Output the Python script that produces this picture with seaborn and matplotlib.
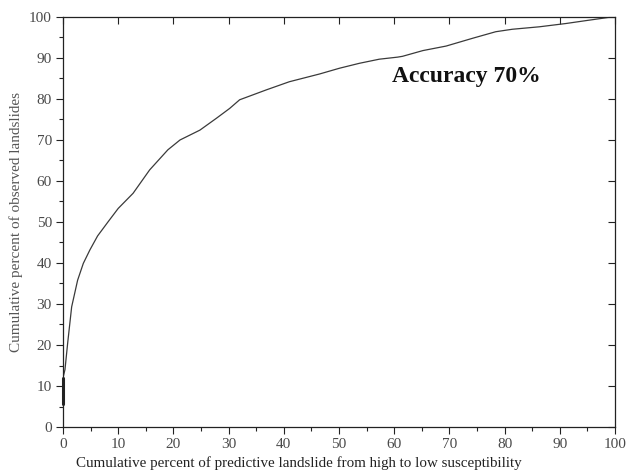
import numpy as np
import pandas as pd
import matplotlib
matplotlib.use("Agg")
import matplotlib.pyplot as plt
from matplotlib.ticker import MultipleLocator
import seaborn as sns

# cumulative percent of predictive landslide area (high -> low susceptibility)
pct_area = [0.0, 0.0, 0.0, 0.36, 0.85, 1.57, 2.65, 3.68, 4.88, 6.27, 8.2, 10.0,
            12.7, 15.7, 19.0, 21.2, 24.8, 27.8, 30.2, 32.0, 33.8, 36.8, 41.0,
            46.5, 50.1, 53.7, 57.3, 60.6, 61.5, 65.2, 69.4, 74.2, 78.4, 81.4,
            86.3, 91.1, 94.7, 98.9, 100.0]
# cumulative percent of observed landslides
pct_observed = [5.5, 9.0, 12.0, 14.0, 20.5, 29.3, 35.8, 39.9, 43.2, 46.6, 50.1, 53.3,
                57.0, 62.7, 67.6, 70.0, 72.4, 75.3, 77.7, 79.8, 80.7, 82.2, 84.2,
                86.1, 87.5, 88.7, 89.7, 90.2, 90.4, 91.8, 92.9, 94.8, 96.4, 97.0,
                97.6, 98.4, 99.1, 99.9, 100.0]

ANNOT = "Accuracy 70%"
XLABEL = "Cumulative percent of predictive landslide from high to low susceptibility"
YLABEL = "Cumulative percent of observed landslides"

df = pd.DataFrame({"area": pct_area, "observed": pct_observed})

sns.set_theme(style="white")
plt.rcParams["font.family"] = ["Liberation Serif", "DejaVu Serif"]

fig = plt.figure(figsize=(6.28, 4.71), dpi=100)
ax = fig.add_axes([0.1003, 0.0934, 0.8790, 0.8706])

sns.lineplot(data=df, x="area", y="observed", ax=ax, color="#3a3a3a",
             linewidth=0.9, sort=False, estimator=None)
# short darker stub where the curve runs along the y axis
ax.plot(pct_area[:3], pct_observed[:3], color="#222222", linewidth=2.2,
        clip_on=False, zorder=5)

ax.set_xlim(0, 100)
ax.set_ylim(0, 100)
ax.xaxis.set_major_locator(MultipleLocator(10))
ax.xaxis.set_minor_locator(MultipleLocator(5))
ax.yaxis.set_major_locator(MultipleLocator(10))
ax.yaxis.set_minor_locator(MultipleLocator(5))
ax.tick_params(which="major", direction="out", length=5, width=0.8,
               color="#222222", labelsize=11, labelcolor="#4a4a4a", pad=3)
ax.tick_params(which="minor", direction="out", length=3, width=0.8,
               color="#222222")
ax.tick_params(axis="x", which="both", bottom=True, top=False)
ax.tick_params(axis="y", which="both", left=True, right=False)

for sp in ax.spines.values():
    sp.set_color("#222222")
    sp.set_linewidth(0.9)

# inward ticks on top and right sides
top = ax.secondary_xaxis("top")
top.xaxis.set_major_locator(MultipleLocator(10))
top.tick_params(direction="in", length=5, width=0.8, color="#222222",
                labeltop=False)
top.spines["top"].set_visible(False)
right = ax.secondary_yaxis("right")
right.yaxis.set_major_locator(MultipleLocator(10))
right.tick_params(direction="in", length=5, width=0.8, color="#222222",
                  labelright=False)
right.spines["right"].set_visible(False)

ax.set_xlabel(XLABEL, fontsize=10.8, color="#222222")
ax.xaxis.set_label_coords(0.428, -0.072, transform=ax.transAxes)
ax.xaxis.label.set_va("top")
ax.set_ylabel(YLABEL, fontsize=11, color="#555555", labelpad=4)

ax.text(59.6, 85.6, ANNOT, fontsize=17, fontweight="bold", color="#111111",
        va="center", ha="left")

fig.savefig("out.png", dpi=100)
